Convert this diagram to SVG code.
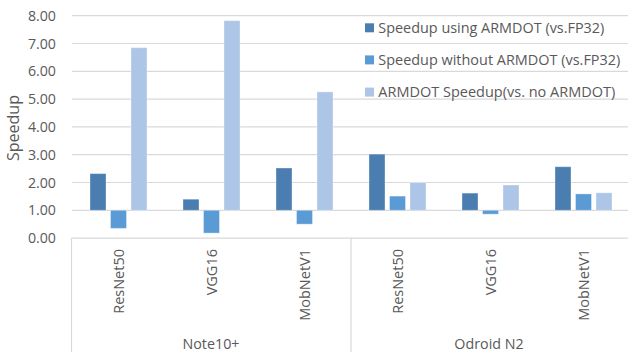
<svg xmlns="http://www.w3.org/2000/svg" width="628" height="352" viewBox="0 0 628 352">
  <style>
    .grid { stroke: #d9d9d9; stroke-width: 1.2; fill: none; }
    .axisbox { stroke: #d9d9d9; stroke-width: 1.2; fill: none; }
    .lbl { font-family: "Open Sans", "Liberation Sans", sans-serif; fill: #595959; }
    .tick { font-size: 14.2px; text-anchor: end; }
    .cat { font-size: 14.5px; text-anchor: end; }
    .grp { font-size: 14.3px; text-anchor: middle; }
    .leg { font-size: 14.3px; }
    .s1 { fill: #4a7eb0; }
    .s2 { fill: #5b9bd5; }
    .s3 { fill: #adc5e7; }
    .bar { stroke: #ffffff; stroke-opacity: 0.35; stroke-width: 1; }
  </style>
  <rect width="628" height="352" fill="#ffffff"/>

  <!-- horizontal gridlines, 1.00 per step -->
  <g id="gridlines">
    <line class="grid" x1="72" y1="15.7" x2="628" y2="15.7"/>
    <line class="grid" x1="72" y1="43.5" x2="628" y2="43.5"/>
    <line class="grid" x1="72" y1="71.3" x2="628" y2="71.3"/>
    <line class="grid" x1="72" y1="99.1" x2="628" y2="99.1"/>
    <line class="grid" x1="72" y1="126.9" x2="628" y2="126.9"/>
    <line class="grid" x1="72" y1="154.7" x2="628" y2="154.7"/>
    <line class="grid" x1="72" y1="182.5" x2="628" y2="182.5"/>
    <line class="grid" x1="72" y1="210.3" x2="628" y2="210.3"/>
  </g>

  <!-- category axis frame -->
  <g id="category-axis">
    <line class="axisbox" x1="71.5" y1="238.1" x2="628" y2="238.1"/>
    <line class="axisbox" x1="71.5" y1="238.1" x2="71.5" y2="352"/>
    <line class="axisbox" x1="351" y1="238.1" x2="351" y2="352"/>
  </g>

  <!-- value axis labels -->
  <g id="value-axis" class="lbl tick">
    <text x="56" y="20.7">8.00</text>
    <text x="56" y="48.5">7.00</text>
    <text x="56" y="76.3">6.00</text>
    <text x="56" y="104.1">5.00</text>
    <text x="56" y="131.9">4.00</text>
    <text x="56" y="159.7">3.00</text>
    <text x="56" y="187.5">2.00</text>
    <text x="56" y="215.3">1.00</text>
    <text x="56" y="243.1">0.00</text>
  </g>
  <text id="value-axis-title" class="lbl" font-size="16" text-anchor="middle" transform="translate(19,128) rotate(-90)">Speedup</text>

  <!-- bars: series 1 dark, series 2 medium, series 3 light; baseline at 1.00 -->
  <g id="note10-resnet50">
    <rect class="bar s1" x="90" y="173.6" width="16" height="36.7"/>
    <rect class="bar s2" x="110.5" y="210.3" width="16" height="18.1"/>
    <rect class="bar s3" x="131" y="47.7" width="16" height="162.6"/>
  </g>
  <g id="note10-vgg16">
    <rect class="bar s1" x="183" y="199.2" width="16" height="11.1"/>
    <rect class="bar s2" x="203.5" y="210.3" width="16" height="22.8"/>
    <rect class="bar s3" x="224" y="20.7" width="16" height="189.6"/>
  </g>
  <g id="note10-mobnetv1">
    <rect class="bar s1" x="276" y="168" width="16" height="42.3"/>
    <rect class="bar s2" x="296.5" y="210.3" width="16" height="13.9"/>
    <rect class="bar s3" x="317" y="91.9" width="16" height="118.4"/>
  </g>
  <g id="odroid-resnet50">
    <rect class="bar s1" x="369" y="154.1" width="16" height="56.2"/>
    <rect class="bar s2" x="389.5" y="196.1" width="16" height="14.2"/>
    <rect class="bar s3" x="410" y="182.5" width="16" height="27.8"/>
  </g>
  <g id="odroid-vgg16">
    <rect class="bar s1" x="462" y="193.1" width="16" height="17.2"/>
    <rect class="bar s2" x="482.5" y="210.3" width="16" height="3.9"/>
    <rect class="bar s3" x="503" y="185" width="16" height="25.3"/>
  </g>
  <g id="odroid-mobnetv1">
    <rect class="bar s1" x="555" y="166.7" width="16" height="43.6"/>
    <rect class="bar s2" x="575.5" y="193.9" width="16" height="16.4"/>
    <rect class="bar s3" x="596" y="192.8" width="16" height="17.5"/>
  </g>

  <!-- category labels -->
  <g id="category-labels" class="lbl cat">
    <text transform="translate(124,249) rotate(-90)">ResNet50</text>
    <text transform="translate(217,249) rotate(-90)">VGG16</text>
    <text transform="translate(310,249) rotate(-90)">MobNetV1</text>
    <text transform="translate(403,249) rotate(-90)">ResNet50</text>
    <text transform="translate(496,249) rotate(-90)">VGG16</text>
    <text transform="translate(589,249) rotate(-90)">MobNetV1</text>
  </g>
  <g id="group-labels" class="lbl grp">
    <text x="211" y="349">Note10+</text>
    <text x="489" y="349">Odroid N2</text>
  </g>

  <!-- legend -->
  <g id="legend">
    <rect class="s1" x="365" y="23.3" width="9" height="9"/>
    <text class="lbl leg" x="378.3" y="32.7" textLength="226" lengthAdjust="spacingAndGlyphs">Speedup using ARMDOT (vs.FP32)</text>
    <rect class="s2" x="365" y="55.4" width="9" height="9"/>
    <text class="lbl leg" x="378.3" y="64.8" textLength="242" lengthAdjust="spacingAndGlyphs">Speedup without ARMDOT (vs.FP32)</text>
    <rect class="s3" x="365" y="87.6" width="9" height="9"/>
    <text class="lbl leg" x="378.3" y="97" textLength="237" lengthAdjust="spacingAndGlyphs">ARMDOT Speedup(vs. no ARMDOT)</text>
  </g>
</svg>
